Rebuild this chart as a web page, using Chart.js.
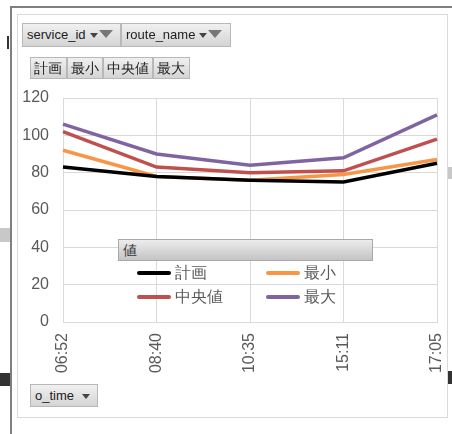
<!DOCTYPE html>
<html>
<head>
<meta charset="utf-8">
<script src="https://cdn.jsdelivr.net/npm/chart.js@4/dist/chart.umd.min.js"></script>
<style>
  body { margin: 0; background: #fff; font-family: "Liberation Sans", Arial, sans-serif; }
  #page { position: relative; width: 452px; height: 434px; overflow: hidden; }
  .abs { position: absolute; }
  .btn {
    position: absolute; box-sizing: border-box; height: 24px; line-height: 22px;
    border: 1px solid #b8b8b8; color: #222; font-size: 13px; padding: 0 4px;
    background: linear-gradient(#f0f0f0, #d4d4d4); white-space: nowrap;
  }
  .tri { display: inline-block; width: 0; height: 0; border-left: 4px solid transparent;
    border-right: 4px solid transparent; border-top: 5px solid #444; vertical-align: middle; margin-left: 4px; }
  .funnel { display: inline-block; width: 0; height: 0; border-left: 7px solid transparent;
    border-right: 7px solid transparent; border-top: 8px solid #777; vertical-align: middle; margin-left: 1px; position: relative; top: -2px; }
  #legend { position: absolute; left: 118px; top: 239px; width: 255px; }
  #legendHead { box-sizing: border-box; height: 22px; line-height: 20px; padding-left: 4px; font-size: 14px; color: #333;
    border: 1px solid #a8a8a8; background: linear-gradient(#ececec, #c4c4c4); }
  .li { position: absolute; font-size: 16px; color: #595959; line-height: 18px; }
  .li span.sw { display: inline-block; width: 34px; height: 4px; border-radius: 2px; vertical-align: middle; margin-right: 4px; position: relative; top: -1px; }
</style>
</head>
<body>
<div id="page">
  <!-- background bits -->
  <div class="abs" style="left:11px;top:6px;width:441px;height:2px;background:#7f7f7f"></div>
  <div class="abs" style="left:10px;top:6px;width:2px;height:428px;background:#7f7f7f"></div>
  <div class="abs" style="left:0;top:228px;width:10px;height:14px;background:#c8c8c8"></div>
  <div class="abs" style="left:448px;top:167px;width:4px;height:12px;background:#c8c8c8"></div>
  <div class="abs" style="left:0;top:373px;width:10px;height:13px;background:#333"></div>
  <div class="abs" style="left:448px;top:371px;width:4px;height:13px;background:#333"></div>
  <div class="abs" style="left:7px;top:36px;width:2px;height:13px;background:#333"></div>
  <div class="abs" style="left:17px;top:14px;width:429px;height:402px;border:1px solid #d9d9d9;background:#fff"></div>

  <div class="abs" style="left:17px;top:14px;width:430px;height:403px">
    <canvas id="chart"></canvas>
  </div>

  <div class="btn" style="left:22px;top:23px;width:99px">service_id<span class="tri"></span><span class="funnel"></span></div>
  <div class="btn" style="left:121px;top:23px;width:110px">route_name<span class="tri"></span><span class="funnel"></span></div>
  <div id="seriesBtns"></div>
  <div class="btn" style="left:30px;top:384px;width:68px;height:23px">o_time<span class="tri" style="margin-left:8px"></span></div>

  <div id="legend"><div id="legendHead">値</div></div>
</div>
<script>
const times = ['06:52', '08:40', '10:35', '15:11', '17:05'];
const seriesNames = ['計画', '最小', '中央値', '最大'];
const keikaku = [83, 78, 76, 75, 85];
const saisho = [92, 78, 76, 79, 87];
const chuou = [102, 83, 80, 81, 98];
const saidai = [106, 90, 84, 88, 111];
const yTicks = [0, 20, 40, 60, 80, 100, 120];

const colors = ['#000000', '#f79646', '#c0504d', '#8064a2'];
const values = [keikaku, saisho, chuou, saidai];

// series buttons at top
const btnWrap = document.getElementById('seriesBtns');
const btnPos = [[30, 37], [67, 36], [103, 50], [153, 37]];
seriesNames.forEach((n, i) => {
    const b = document.createElement('div');
    b.className = 'btn';
    b.style.left = btnPos[i][0] + 'px';
    b.style.top = '57px';
    b.style.width = btnPos[i][1] + 'px';
    b.style.height = '22px';
    b.style.lineHeight = '20px';
    b.style.padding = '0 3px';
    b.style.fontSize = '14px';
    b.textContent = n;
    btnWrap.appendChild(b);
});

// legend items
const legend = document.getElementById('legend');
const itemPos = [[19, 25], [148, 25], [19, 49], [148, 49]];
seriesNames.forEach((n, i) => {
    const d = document.createElement('div');
    d.className = 'li';
    d.style.left = itemPos[i][0] + 'px';
    d.style.top = itemPos[i][1] + 'px';
    d.innerHTML = '<span class="sw" style="background:' + colors[i] + '"></span>' + n;
    legend.appendChild(d);
});

const ctx = document.getElementById('chart').getContext('2d');
const tickFont = { family: '"Liberation Sans", Arial, sans-serif', size: 16 };

new Chart(ctx, {
    type: 'line',
    data: {
        labels: times,
        datasets: seriesNames.map((n, i) => ({
            label: n,
            data: values[i],
            borderColor: colors[i],
            borderWidth: 3.5,
            pointRadius: 0,
            fill: false,
            tension: 0
        }))
    },
    options: {
        responsive: true,
        maintainAspectRatio: false,
        animation: false,
        layout: { padding: { top: 84, right: 10, left: 0, bottom: 0 } },
        plugins: { legend: { display: false }, tooltip: { enabled: false } },
        scales: {
            x: {
                offset: false,
                grid: { color: '#d9d9d9', drawTicks: false },
                border: { color: '#d9d9d9' },
                ticks: { color: '#595959', font: tickFont, minRotation: 90, maxRotation: 90, padding: 11 },
                afterFit: (s) => { s.height = 95; s.paddingLeft = 0; s.paddingRight = 0; }
            },
            y: {
                min: 0,
                max: 120,
                grid: { color: '#d9d9d9', drawTicks: false },
                border: { color: '#d9d9d9' },
                afterBuildTicks: (s) => { s.ticks = yTicks.map(v => ({ value: v })); },
                ticks: { color: '#595959', font: tickFont, padding: 14 },
                afterFit: (s) => { s.width = 46; s.paddingTop = 0; s.paddingBottom = 0; }
            }
        }
    }
});
</script>
</body>
</html>
